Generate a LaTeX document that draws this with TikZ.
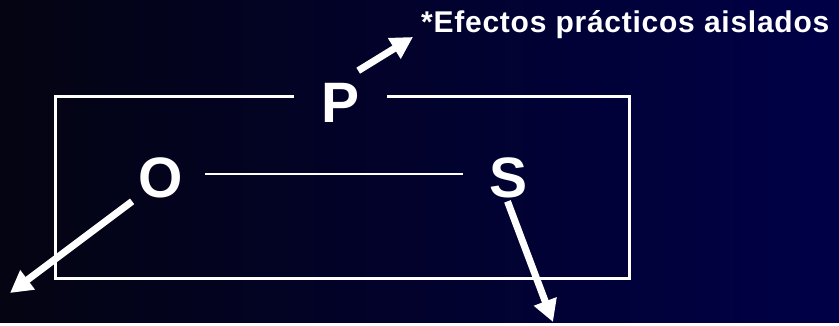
\documentclass[tikz,border=0pt]{standalone}
\usepackage{fontspec}
\setmainfont{Liberation Sans}
\usepackage{xcolor}
\usetikzlibrary{arrows.meta}
\usetikzlibrary{calc}
\usetikzlibrary{positioning}

\definecolor{bgleft}{RGB}{4,4,18}
\definecolor{bgright}{RGB}{0,0,72}

\tikzset{
  letter/.style={text=white, inner sep=0pt, font=\fontsize{57}{60}\selectfont\bfseries},
  bigarrow/.style={white, line width=7pt, -{Triangle[length=22pt, width=23pt]}}
}

\begin{document}
\begin{tikzpicture}[x=1pt, y=1pt]
      \shade[left color=bgleft, right color=bgright] (0, 0) rectangle (839, 323);

      \node[letter] (P) at (341, 220.5) {P};
      \node[letter] (O) at (160.5, 145) {O};
      \node[letter] (S) at (508.5, 145) {S};
      \node[text=white, inner sep=0pt, anchor=base west,
            font=\fontsize{30}{32}\selectfont\bfseries\addfontfeature{LetterSpace=2.5}] (note) at (421, 290) {*Efectos prácticos aislados};

      \coordinate (Oend) at (10, 30);
      \coordinate (Send) at (553, 1);

      % box, open under the P
      \draw[white, line width=3pt] ([xshift=-28pt]P.west |- 0, 226) -- (55, 226) -- (55, 44)
        -- (629, 44) -- (629, 226) -- ([xshift=27pt]P.east |- 0, 226);

      \draw[white, line width=2pt] ([xshift=22pt, yshift=4pt]O.east) -- ([xshift=-26pt, yshift=4pt]S.west);

      \draw[bigarrow] ([shift={(-2pt, 12pt)}]P.north east) -- ([shift={(-8pt, -4pt)}]note.base west);
      \draw[bigarrow] ([shift={(-6pt, -3pt)}]O.south west) -- (Oend);
      \draw[bigarrow] ([shift={(-1pt, -3pt)}]S.south) -- (Send);

    \end{tikzpicture}
\end{document}
